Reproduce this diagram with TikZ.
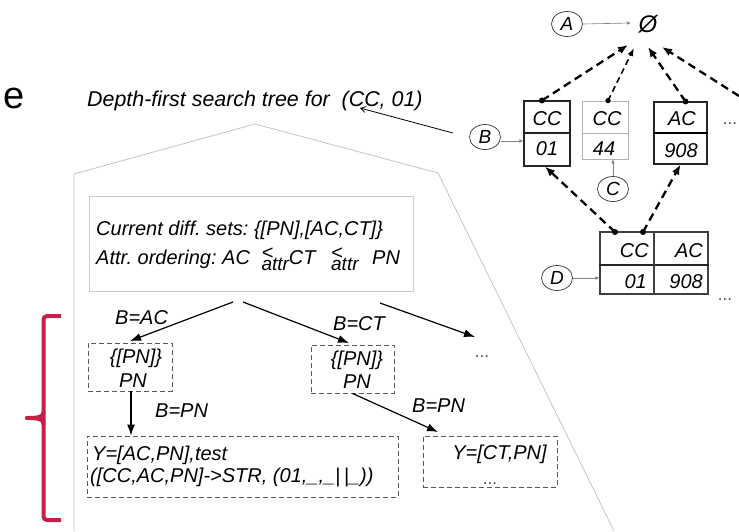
\documentclass[tikz,border=0pt]{standalone}
\usepackage{fontspec}
\setmainfont{Liberation Sans}
\usetikzlibrary{arrows.meta,shapes.geometric}
\frenchspacing

\definecolor{braceRed}{RGB}{196,32,74}
\definecolor{frameGrey}{RGB}{196,196,196}
\definecolor{boxGrey}{RGB}{90,90,90}

% "<" with a lowered "attr" index
\newcommand\attrlt{\makebox[0pt][l]{\raisebox{0.22em}{<}}\raisebox{-0.33em}{\fontsize{19}{18}\selectfont attr}}

\begin{document}
\begin{tikzpicture}[x=1pt,y=-1pt,
  txt/.style={font=\fontsize{20}{24}\selectfont\itshape, inner sep=0pt},
  dots/.style={font=\fontsize{17}{17}\selectfont, inner sep=0pt, text=black!70},
  lbl/.style={ellipse, draw=black!80, line width=0.7pt, minimum width=31pt,
              minimum height=25pt, inner sep=0pt, font=\fontsize{19}{19}\selectfont\itshape},
  cell/.style={draw=black!85, line width=1.1pt, inner sep=0pt},
  dbox/.style={draw=boxGrey, line width=0.9pt, dash pattern=on 5pt off 3pt, inner sep=0pt},
  tarrow/.style={-{Latex[length=11pt,width=8pt]}, line width=1.2pt},
  latt/.style={-{Latex[length=10pt,width=8pt]}, line width=2.3pt,
               dash pattern=on 8pt off 5pt},
  dot/.style={fill=black},
  ptr/.style={draw=black!50, line width=0.6pt, -{Latex[length=4pt,width=3.5pt]}}
]
\useasboundingbox (0,0) rectangle (739,531);

% panel letter and title
\node[font=\fontsize{38}{38}\selectfont, inner sep=0pt, anchor=base west] (panel) at (3,108) {e};
\node[font=\fontsize{21.4}{24}\selectfont\itshape, inner sep=0pt, anchor=base west] (title) at (87,106)
  {Depth-first search tree for\ \ (CC, 01)};

% outline of the search tree region
\draw[frameGrey, line width=0.8pt] (74,531) -- (74,174) -- (255,124) -- (438,173) -- (614,531);

% red brace on the left
\draw[braceRed, line width=4pt, rounded corners=3.5pt, line join=round]
  (61,316) -- (43.5,316) -- (43.5,520) -- (61,520);
\draw[braceRed, line width=4pt, line cap=round]
  (43.5,412) .. controls (43.5,416.5) and (40,418) .. (27,418);
\draw[braceRed, line width=4pt, line cap=round]
  (43.5,424) .. controls (43.5,419.5) and (40,418) .. (27,418);

% ---------- lattice ----------
\node[font=\fontsize{24}{24}\selectfont\itshape, inner sep=0pt] (empty) at (648,24) {Ø};
\node[lbl] (A) at (567,24) {A};
\node[lbl] (B) at (485,137) {B};
\node[lbl] (C) at (613,189) {C};
\node[lbl] (D) at (557,278) {D};

% level one: CC/01, CC/44, AC/908
\node[cell, minimum width=46pt, minimum height=65pt] (cc01) at (547,133.5) {};
\draw[black!85, line width=1.1pt] (cc01.west |- 0,133) -- (cc01.east |- 0,133);
\node[txt, anchor=base] (cc01a) at (547,125) {CC};
\node[txt, anchor=base] (cc01b) at (547,155) {01};

\node[draw=black!30, line width=0.7pt, minimum width=46pt, minimum height=58pt, inner sep=0pt] (cc44) at (605,130) {};
\draw[black!30, line width=0.7pt] (cc44.west |- 0,133) -- (cc44.east |- 0,133);
\node[txt, anchor=base] (cc44a) at (607,125) {CC};
\node[txt, anchor=base] (cc44b) at (604,155) {44};

\node[cell, minimum width=53pt, minimum height=62pt] (ac908) at (680.5,133) {};
\draw[black, line width=1.5pt] (ac908.west |- 0,133) -- (ac908.east |- 0,133);
\node[txt, anchor=base] (ac908a) at (682,125) {AC};
\node[txt, anchor=base] (ac908b) at (681,157) {908};

\node[dots, anchor=base] (dotsA) at (730,124) {...};

% level two: CC,AC / 01,908
\node[cell, draw=black!75, minimum width=108pt, minimum height=62pt] (d) at (654,263) {};
\draw[black!85, line width=1.3pt] (d.west |- 0,265) -- (d.east |- 0,265);
\draw[black!75, line width=1.1pt] (d.north) -- (d.south);
\node[txt, anchor=base east] (dcc) at (649,257) {CC};
\node[txt, anchor=base east] (dac) at (703,257) {AC};
\node[txt, anchor=base east] (d01) at (647,288) {01};
\node[txt, anchor=base east] (d908) at (703,288) {908};
\node[dots, anchor=base] (dotsD) at (725,300) {...};

% pointers from the letter marks
\coordinate (aEnd) at (631,23);
\draw[ptr] (A.east) -- (aEnd);
\draw[ptr] (B.east |- 0,141) -- (cc01.west |- 0,141);
\draw[ptr] (C.north) -- (cc44.south -| C.north);
\draw[ptr] (D.east) -- (d.west |- D.east);
\coordinate (titleTip) at (360,108);
\coordinate (bTail) at (453,133);
\draw[line width=0.8pt, -{Straight Barb[length=5pt,width=6pt]}] (bTail) -- (titleTip);

% dashed lattice edges
\coordinate (e1) at (628,45);
\coordinate (e2) at (634,48);
\coordinate (e3) at (648,47);
\coordinate (e4) at (662,47);
\coordinate (offRight) at (739,96);
\coordinate (u1) at ([xshift=-5pt]cc01.north);
\coordinate (u2) at ([xshift=3pt]cc44.north);
\coordinate (u3) at ([xshift=5pt]ac908.north);
\coordinate (dL) at (615,232);
\coordinate (dR) at (643,232);
\draw[latt] (u1) -- (e1);
\draw[latt, line width=1.6pt, dash pattern=on 6pt off 4pt,
      -{Latex[length=8pt,width=6pt]}] (u2) -- (e2);
\draw[latt] (u3) -- (e3);
\draw[latt] (offRight) -- (e4);
\draw[latt] (dL) -- ([xshift=-2pt]cc01.south);
\draw[latt] (dR) -- (ac908.south);
\foreach \p in {u1,u3,dL,dR} \fill[dot] (\p) circle (3pt);
\fill[dot] (u2) circle (2.6pt);

% ---------- search tree ----------
\node[draw=black!20, line width=0.9pt, minimum width=324pt, minimum height=95pt, inner sep=0pt] (info) at (251,243.5) {};
\node[txt, anchor=base west] (diff) at (96,235) {Current diff. sets: \{[PN],[AC,CT]\}};
\node[txt, anchor=base west] (order) at (96,264)
  {Attr. ordering: AC\ \hspace{6pt}\attrlt CT\ \hspace{10pt}\attrlt\ \hspace{8pt}PN};

\node[dbox, minimum width=84pt, minimum height=48pt] (n1) at (130,367) {};
\node[txt, anchor=base] (n1a) at (136,363) {\{[PN]\}};
\node[txt, anchor=base] (n1b) at (133,387) {PN};

\node[dbox, minimum width=83pt, minimum height=48pt] (n2) at (352.5,369) {};
\node[txt, anchor=base] (n2a) at (357,365) {\{[PN]\}};
\node[txt, anchor=base] (n2b) at (357,388) {PN};

\node[dots, anchor=base] (n3) at (482,357) {...};

\node[dbox, minimum width=311pt, minimum height=61pt] (leaf1) at (242.5,466.5) {};
\node[txt, anchor=base west] (leaf1a) at (92,460) {Y=[AC,PN],test};
\node[txt, anchor=base west] (leaf1b) at (90,482) {([CC,AC,PN]->STR, (01,\_,\_|\,|\_))};

\node[dbox, minimum width=134pt, minimum height=51pt] (leaf2) at (490,461.5) {};
\node[txt, anchor=base] (leaf2a) at (499.5,459) {Y=[CT,PN]};
\node[dots, anchor=base] (leaf2b) at (490,484) {...};

\coordinate (s1) at (233,302);
\coordinate (s2) at (243,302);
\coordinate (s3) at (380,303);
\coordinate (t1) at (130,341);
\coordinate (t2) at (349,343);
\coordinate (t3) at (475,337);
\draw[tarrow] (s1) -- (t1);
\draw[tarrow] (s2) -- (t2);
\draw[tarrow] (s3) -- (t3);
\draw[tarrow] (n1.south -| 131,0) -- (leaf1.north -| 131,0);
\draw[tarrow] (n2.south) -- (438,432);

\node[txt, anchor=base west] (bac) at (115,324) {B=AC};
\node[txt, anchor=base west] (bct) at (333,330) {B=CT};
\node[txt, anchor=base west] (bpn1) at (155,417) {B=PN};
\node[txt, anchor=base west] (bpn2) at (412,412) {B=PN};
\end{tikzpicture}
\end{document}
